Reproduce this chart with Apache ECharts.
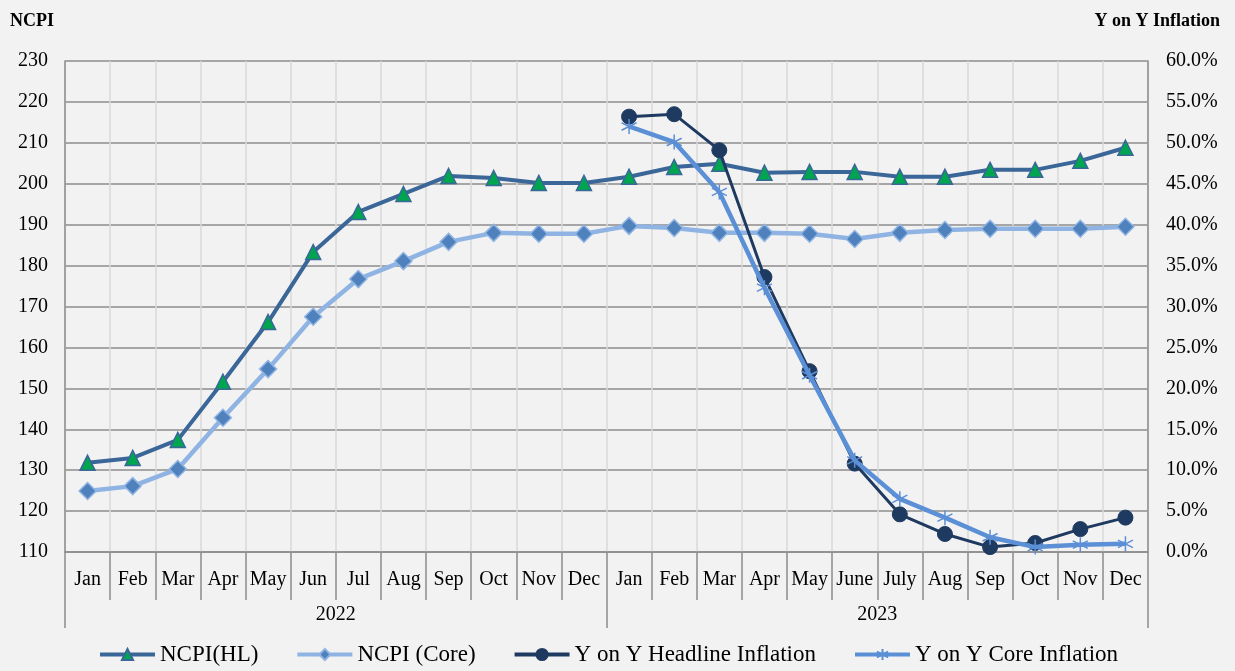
<!DOCTYPE html>
<html>
<head>
<meta charset="utf-8">
<script src="https://cdn.jsdelivr.net/npm/echarts@6/dist/echarts.min.js"></script>
<style>
  html, body { margin: 0; padding: 0; background: #f2f2f2; }
  #chart { width: 1235px; height: 671px; }
</style>
</head>
<body>
<div id="chart"></div>
<script>
const months = ['Jan', 'Feb', 'Mar', 'Apr', 'May', 'Jun', 'Jul', 'Aug', 'Sep', 'Oct', 'Nov', 'Dec',
  'Jan', 'Feb', 'Mar', 'Apr', 'May', 'June', 'July', 'Aug', 'Sep', 'Oct', 'Nov', 'Dec']
const years = ['2022', '2023']

const ncpiHL = [131.8, 133.0, 137.4, 151.6, 166.2, 183.3, 193.1, 197.5, 201.9, 201.4, 200.2, 200.2,
  201.7, 204.1, 204.9, 202.7, 202.9, 202.9, 201.7, 201.7, 203.4, 203.4, 205.6, 208.8]
const ncpiCore = [124.9, 126.1, 130.3, 142.8, 154.7, 167.5, 176.7, 181.1, 185.8, 188.0, 187.8, 187.8,
  189.7, 189.2, 188.0, 188.0, 187.8, 186.5, 188.0, 188.7, 189.0, 189.0, 189.0, 189.5]
const yoyHeadline = ['-', '-', '-', '-', '-', '-', '-', '-', '-', '-', '-', '-',
  53.2, 53.5, 49.1, 33.6, 22.1, 10.8, 4.6, 2.2, 0.6, 1.1, 2.8, 4.2]
const yoyCore = ['-', '-', '-', '-', '-', '-', '-', '-', '-', '-', '-', '-',
  52.0, 50.1, 44.0, 32.3, 21.6, 11.2, 6.5, 4.2, 1.8, 0.6, 0.9, 1.0]

const font = 'Liberation Serif'
// Excel-style asterisk marker
const asterisk = 'path://M10,0 L10,20 M1,5 L19,15 M19,5 L1,15'

const chart = echarts.init(document.getElementById('chart'))

chart.setOption({
  backgroundColor: '#f2f2f2',
  textStyle: { fontFamily: font },
  title: [
    {
      text: 'NCPI',
      left: 5,
      top: 7,
      textStyle: { fontFamily: font, fontSize: 18, fontWeight: 'bold', color: '#000' }
    },
    {
      text: 'Y on Y Inflation',
      right: 10,
      top: 7,
      textStyle: { fontFamily: font, fontSize: 18, fontWeight: 'bold', color: '#000' }
    }
  ],
  legend: {
    top: 638,
    left: 93,
    itemWidth: 55,
    itemHeight: 14,
    itemGap: 37,
    lineStyle: { width: 4 },
    textStyle: { fontFamily: font, fontSize: 23, color: '#000' },
    data: ['NCPI(HL)', 'NCPI (Core)', 'Y on Y Headline Inflation', 'Y on Y Core Inflation']
  },
  grid: {
    left: 65,
    right: 87,
    top: 61,
    bottom: 119
  },
  xAxis: [
    {
      type: 'category',
      data: months,
      position: 'bottom',
      boundaryGap: true,
      axisLine: { lineStyle: { color: '#8c8c8c', width: 1.5 } },
      axisTick: { show: true, length: 48, lineStyle: { color: '#8c8c8c', width: 1.5 } },
      axisLabel: { color: '#000', fontSize: 20, margin: 18, interval: 0 },
      splitLine: { show: true, lineStyle: { color: '#d9d9d9', width: 1.5 } }
    },
    {
      type: 'category',
      data: years,
      position: 'bottom',
      boundaryGap: true,
      axisLine: { show: false },
      axisTick: { show: true, length: 76, lineStyle: { color: '#8c8c8c', width: 1.5 } },
      axisLabel: { color: '#000', fontSize: 20, margin: 53 },
      splitLine: { show: false }
    }
  ],
  yAxis: [
    {
      type: 'value',
      min: 110,
      max: 230,
      interval: 10,
      axisLine: { show: true, lineStyle: { color: '#8c8c8c', width: 1.5 } },
      axisTick: { show: false },
      axisLabel: { color: '#000', fontSize: 20, margin: 17 },
      splitLine: { show: true, lineStyle: { color: '#8c8c8c', width: 1.5 } }
    },
    {
      type: 'value',
      min: 0,
      max: 60,
      interval: 5,
      axisLine: { show: true, lineStyle: { color: '#8c8c8c', width: 1.5 } },
      axisTick: { show: false },
      axisLabel: {
        color: '#000',
        fontSize: 20,
        margin: 18,
        formatter: v => v.toFixed(1) + '%'
      },
      splitLine: { show: false }
    }
  ],
  series: [
    {
      name: 'NCPI(HL)',
      type: 'line',
      yAxisIndex: 0,
      data: ncpiHL,
      symbol: 'triangle',
      symbolSize: 15,
      color: '#3a6698',
      lineStyle: { color: '#3a6698', width: 4 },
      itemStyle: { color: '#00a550', borderColor: '#3a6698', borderWidth: 1.5 },
      z: 3
    },
    {
      name: 'NCPI (Core)',
      type: 'line',
      yAxisIndex: 0,
      data: ncpiCore,
      symbol: 'diamond',
      symbolSize: 17,
      color: '#8fb4e3',
      lineStyle: { color: '#8fb4e3', width: 4.5 },
      itemStyle: { color: '#4f81bd', borderColor: '#8fb4e3', borderWidth: 1.5 },
      z: 2
    },
    {
      name: 'Y on Y Headline Inflation',
      type: 'line',
      yAxisIndex: 1,
      data: yoyHeadline,
      symbol: 'circle',
      symbolSize: 15,
      color: '#1f3a60',
      lineStyle: { color: '#1f3a60', width: 3 },
      itemStyle: { color: '#1f3a60', borderColor: '#1f3a60', borderWidth: 1 },
      z: 4
    },
    {
      name: 'Y on Y Core Inflation',
      type: 'line',
      yAxisIndex: 1,
      data: yoyCore,
      symbol: asterisk,
      symbolSize: 15,
      color: '#5b8fd6',
      lineStyle: { color: '#5b8fd6', width: 4.5 },
      itemStyle: { color: 'transparent', borderColor: '#5b8fd6', borderWidth: 1.5 },
      z: 5
    }
  ]
})
</script>
</body>
</html>
